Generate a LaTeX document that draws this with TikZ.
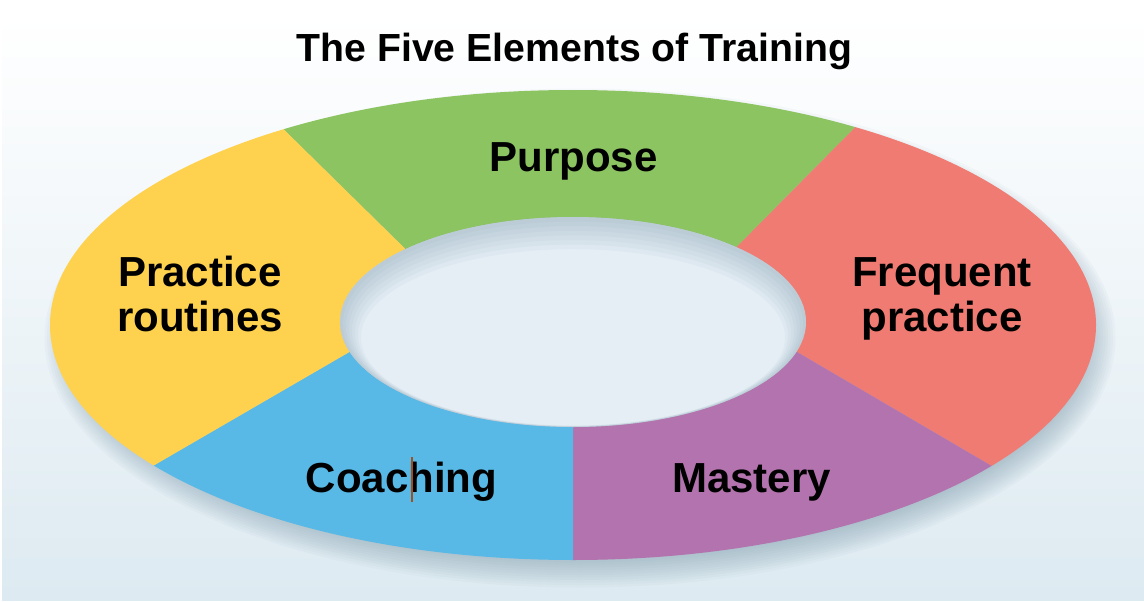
\documentclass[tikz,border=0pt]{standalone}
\usepackage{fontspec}
\setmainfont{Liberation Sans}
\definecolor{bgb}{HTML}{DDEAF1}
\definecolor{bgm}{HTML}{EAF1F6}
\definecolor{cgreen}{HTML}{8DC462}
\definecolor{cyellow}{HTML}{FED24F}
\definecolor{cred}{HTML}{F07B72}
\definecolor{cpurple}{HTML}{B373AE}
\definecolor{cblue}{HTML}{58B9E7}
\definecolor{chole}{HTML}{E5EEF5}
\definecolor{shadowc}{HTML}{6F8FA3}
\definecolor{cursorc}{HTML}{A0501E}
\begin{document}
\begin{tikzpicture}[x=1pt,y=-1pt,
  lbl/.style={font=\fontsize{42}{46}\selectfont\bfseries, text=black, inner sep=0pt, anchor=base},
  ttl/.style={font=\fontsize{39.2}{42}\selectfont\bfseries, text=black, inner sep=0pt, anchor=base}]
\useasboundingbox (0,0) rectangle (1144,602);
\fill[white] (0,0) rectangle (1144,602);
\shade[top color=white, middle color=bgm, bottom color=bgb] (2,15) rectangle (1144,600);
% key points
\coordinate (C) at (573,322);
\coordinate (D1i) at (440,283); \coordinate (D1e) at (34,-116);
\coordinate (D2i) at (701,283); \coordinate (D2e) at (1100,-120);
\coordinate (D3i) at (739,318); \coordinate (D3e) at (1376,691);
\coordinate (D4i) at (573,388); \coordinate (D4e) at (573,900);
\coordinate (D5i) at (408,318); \coordinate (D5e) at (-235,691);
% drop shadow of the ring
\foreach \i in {0,...,11}
  \fill[shadowc, opacity=0.045] (580,338) ellipse [x radius=508+\i*2.5, y radius=222+\i*2.5];
% ring segments
\begin{scope}
  \clip (573,325) ellipse [x radius=523, y radius=235];
  \fill[cgreen] (C) -- (D1i) -- (D1e) -- (D2e) -- (D2i) -- cycle;
  \fill[cred] (C) -- (D2i) -- (D2e) -- (1400,-120) -- (1400,691) -- (D3e) -- (D3i) -- cycle;
  \fill[cpurple] (C) -- (D3i) -- (D3e) -- (1376,900) -- (D4e) -- (D4i) -- cycle;
  \fill[cblue] (C) -- (D4i) -- (D4e) -- (-235,900) -- (D5e) -- (D5i) -- cycle;
  \fill[cyellow] (C) -- (D5i) -- (D5e) -- (-235,-116) -- (D1e) -- (D1i) -- cycle;
\end{scope}
% hole with inner shadow
\fill[chole] (C) ellipse [x radius=233, y radius=105];
\begin{scope}
  \clip (C) ellipse [x radius=233, y radius=105];
  \foreach \k in {1,...,7}
    \fill[shadowc, opacity=0.055, even odd rule] (300,180) rectangle (850,470)
      (573,322+\k*2.2) ellipse [x radius=233-\k*3.0, y radius=105-\k*2.4];
\end{scope}
% texts
\node[ttl] (title) at (574.5,62) {The Five Elements of Training};
\node[lbl] (purpose) at (573.5,171) {Purpose};
\node[lbl] (prac1) at (200,286) {Practice};
\node[lbl] (prac2) at (200,331) {routines};
\node[lbl] (freq1) at (942,286) {Frequent};
\node[lbl] (freq2) at (942,331) {practice};
\node[lbl] (coach) at (401.5,492) {Coaching};
\node[lbl] (mast) at (751.5,492) {Mastery};
\coordinate (cur1) at (412,457);
\coordinate (cur2) at (412,502);
\draw[cursorc, line width=1.6pt] (cur1) -- (cur2);
\end{tikzpicture}
\end{document}
